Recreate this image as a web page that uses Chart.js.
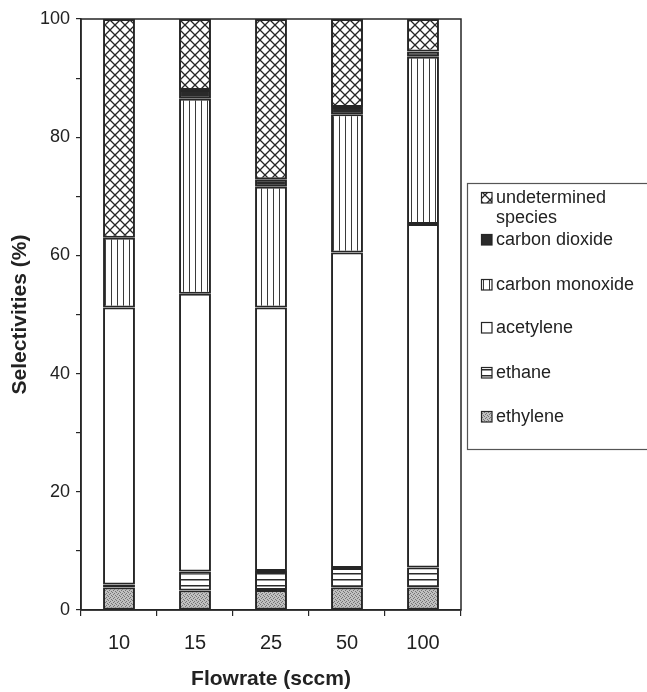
<!DOCTYPE html>
<html>
<head>
<meta charset="utf-8">
<title>Selectivities vs flowrate</title>
<script src="https://cdn.jsdelivr.net/npm/chart.js@4.4.1/dist/chart.umd.min.js"></script>
<style>
  html, body { margin: 0; padding: 0; background: #fff; }
</style>
</head>
<body>
<canvas id="chart" width="647" height="692"></canvas>
<script>
// Data (% selectivity, stacked bottom -> top)
const flowrates = ['10', '15', '25', '50', '100'];
const ethylene = [3.8, 3.3, 3.4, 3.8, 3.8];
const ethane = [0.5, 3.2, 3.2, 3.3, 3.4];
const acetylene = [46.9, 47.0, 44.6, 53.4, 58.1];
const carbonMonoxide = [11.8, 33.0, 20.4, 23.4, 28.3];
const carbonDioxide = [0, 1.5, 1.3, 1.2, 0.9];
const undetermined = [37.0, 12.0, 27.1, 14.9, 5.5];
const yTicks = [0, 20, 40, 60, 80, 100];

const ink = '#262626';
const textColor = '#222';
const fontFamily = '"Liberation Sans", Arial, sans-serif';

// small tile patterns, like the old b/w Excel fills
function makePattern(w, h, draw) {
    const c = document.createElement('canvas');
    c.width = w;
    c.height = h;
    const g = c.getContext('2d');
    draw(g, w, h);
    return g.createPattern(c, 'repeat');
}

const crossHatch = makePattern(10, 10, function (g, w, h) {
    g.fillStyle = '#fff';
    g.fillRect(0, 0, w, h);
    g.strokeStyle = ink;
    g.lineWidth = 1.3;
    g.beginPath();
    g.moveTo(0, 0); g.lineTo(w, h);
    g.moveTo(w, 0); g.lineTo(0, h);
    g.stroke();
});

const vertLines = makePattern(6, 6, function (g, w, h) {
    g.fillStyle = '#fff';
    g.fillRect(0, 0, w, h);
    g.fillStyle = '#3a3a3a';
    g.fillRect(3, 0, 1, h);
});

const horizLines = makePattern(6, 6, function (g, w, h) {
    g.fillStyle = '#fff';
    g.fillRect(0, 0, w, h);
    g.fillStyle = '#2a2a2a';
    g.fillRect(0, 3, w, 1.5);
});

const stipple = makePattern(4, 4, function (g, w, h) {
    g.fillStyle = '#c0c0c0';
    g.fillRect(0, 0, w, h);
    g.fillStyle = '#747474';
    g.fillRect(0, 0, 1, 1);
    g.fillRect(2, 1, 1, 1);
    g.fillRect(1, 2, 1, 1);
    g.fillRect(3, 3, 1, 1);
});

function series(label, data, fill) {
    return {
        label: label,
        data: data,
        backgroundColor: fill,
        borderColor: ink,
        borderWidth: 2,
        borderSkipped: false,
        categoryPercentage: 1,
        barPercentage: 0.42
    };
}

const datasets = [
    series('ethylene', ethylene, stipple),
    series('ethane', ethane, horizLines),
    series('acetylene', acetylene, '#fff'),
    series('carbon monoxide', carbonMonoxide, vertLines),
    series('carbon dioxide', carbonDioxide, '#2a2a2a'),
    series(['undetermined', 'species'], undetermined, crossHatch)
];

// frame round the plot area (top and right sides too)
const framePlugin = {
    id: 'frame',
    afterDraw: function (chart) {
        const a = chart.chartArea;
        const g = chart.ctx;
        g.save();
        g.strokeStyle = ink;
        g.lineWidth = 1.5;
        g.strokeRect(a.left, a.top, a.right - a.left, a.bottom - a.top);
        g.restore();
    }
};

// boxed legend on the right, top entry = top of the stack
const legendRows = [198, 240, 285, 328, 373, 417];
const boxLegend = {
    id: 'boxLegend',
    afterDraw: function (chart) {
        const g = chart.ctx;
        g.save();
        g.strokeStyle = '#555';
        g.lineWidth = 1.2;
        g.strokeRect(467.5, 183.5, 200, 266);

        g.font = '18px ' + fontFamily;
        g.textBaseline = 'middle';
        const items = chart.data.datasets.slice().reverse();
        items.forEach(function (ds, i) {
            const y = legendRows[i];
            g.fillStyle = ds.backgroundColor;
            g.fillRect(481, y - 6, 11, 11);
            g.strokeStyle = ink;
            g.lineWidth = 1.2;
            g.strokeRect(481.5, y - 5.5, 10.5, 10.5);
            g.fillStyle = textColor;
            const lines = Array.isArray(ds.label) ? ds.label : [ds.label];
            lines.forEach(function (t, k) {
                g.fillText(t, 496, y + k * 20);
            });
        });
        g.restore();
    }
};

const ctx = document.getElementById('chart').getContext('2d');
const chart = new Chart(ctx, {
    type: 'bar',
    data: {
        labels: flowrates,
        datasets: datasets
    },
    options: {
        responsive: false,
        animation: false,
        layout: {
            padding: { left: 0, top: 19, right: 186, bottom: 0 }
        },
        plugins: {
            legend: { display: false },
            tooltip: { enabled: false }
        },
        scales: {
            x: {
                stacked: true,
                grid: {
                    display: true,
                    drawOnChartArea: false,
                    drawTicks: true,
                    tickLength: 6,
                    offset: true,
                    color: ink,
                    lineWidth: 1.2
                },
                border: { display: true, color: ink, width: 1.5 },
                ticks: {
                    color: textColor,
                    padding: 15,
                    font: { family: fontFamily, size: 20 }
                },
                title: {
                    display: true,
                    text: 'Flowrate (sccm)',
                    color: textColor,
                    padding: { top: 0, bottom: 0 },
                    font: { family: fontFamily, size: 21, weight: 'bold' }
                },
                afterFit: function (scale) { scale.height = 82; }
            },
            y: {
                stacked: true,
                min: 0,
                max: 100,
                grid: {
                    display: true,
                    drawOnChartArea: false,
                    drawTicks: true,
                    tickLength: 5,
                    color: ink,
                    lineWidth: 1.2
                },
                border: { display: true, color: ink, width: 1.5 },
                ticks: {
                    stepSize: 10,
                    color: textColor,
                    padding: 6,
                    font: { family: fontFamily, size: 18 },
                    callback: function (v) { return yTicks.includes(v) ? String(v) : ''; }
                },
                title: {
                    display: true,
                    text: 'Selectivities (%)',
                    color: textColor,
                    padding: { top: 8, bottom: 0 },
                    font: { family: fontFamily, size: 21, weight: 'bold' }
                },
                afterFit: function (scale) { scale.width = 81; }
            }
        }
    },
    plugins: [framePlugin, boxLegend]
});
</script>
</body>
</html>
